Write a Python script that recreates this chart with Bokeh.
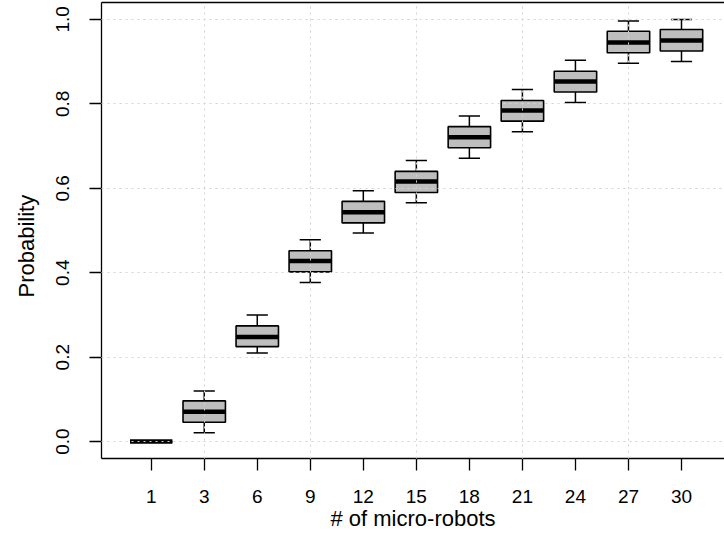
import numpy as np
from bokeh.plotting import figure
from bokeh.models import (FixedTicker, LinearAxis, Range1d, Title,
                          PrintfTickFormatter)
from bokeh.embed import file_html
from bokeh.resources import INLINE

# ---- data ----
counts = ["1", "3", "6", "9", "12", "15", "18", "21", "24", "27", "30"]
lo  = [0.0, 0.021, 0.210, 0.377, 0.494, 0.566, 0.671, 0.734, 0.803, 0.896, 0.900]
q1  = [0.0, 0.046, 0.225, 0.402, 0.518, 0.590, 0.696, 0.759, 0.828, 0.921, 0.925]
med = [0.0, 0.071, 0.248, 0.428, 0.543, 0.616, 0.721, 0.784, 0.853, 0.945, 0.950]
q3  = [0.0, 0.0965, 0.274, 0.452, 0.569, 0.640, 0.746, 0.808, 0.877, 0.972, 0.976]
hi  = [0.0, 0.120, 0.300, 0.478, 0.594, 0.666, 0.771, 0.834, 0.903, 0.996, 1.000]
y_ticks = [0.0, 0.2, 0.4, 0.6, 0.8, 1.0]
x_grid_at = [2, 4, 6, 8, 10]

pos = np.arange(1, len(counts) + 1)
BOXW = 0.8
CAPW = 0.4

FONT = "Liberation Sans"

p = figure(width=724, height=543, output_backend="svg", toolbar_location=None,
           x_range=Range1d(0.0628, 11.811), y_range=Range1d(-0.04, 1.04),
           min_border_left=101, min_border_right=0, min_border_top=2,
           min_border_bottom=85)
p.outline_line_color = None
p.background_fill_color = "white"
p.border_fill_color = "white"

# boxes
p.vbar(x=pos, top=q3, bottom=q1, width=BOXW, fill_color="#BEBEBE",
       line_color="black", line_width=1.6)
# medians
p.segment(x0=pos - BOXW / 2, x1=pos + BOXW / 2, y0=med, y1=med,
          line_color="black", line_width=4.5)
# whiskers
p.segment(x0=pos, x1=pos, y0=q3, y1=hi, line_color="black", line_width=1.5)
p.segment(x0=pos, x1=pos, y0=q1, y1=lo, line_color="black", line_width=1.5)
# caps
p.segment(x0=pos - CAPW / 2, x1=pos + CAPW / 2, y0=hi, y1=hi,
          line_color="black", line_width=1.5)
p.segment(x0=pos - CAPW / 2, x1=pos + CAPW / 2, y0=lo, y1=lo,
          line_color="black", line_width=1.5)

# grid (drawn over the boxes, as in R's grid())
p.xgrid.ticker = FixedTicker(ticks=x_grid_at)
p.ygrid.ticker = FixedTicker(ticks=y_ticks)
for g in (p.xgrid, p.ygrid):
    g.grid_line_color = "#D3D3D3"
    g.grid_line_dash = "2 4"
    g.grid_line_width = 1
    g.level = "overlay"

# axes
xa = p.below[0]
xa.ticker = FixedTicker(ticks=list(pos))
xa.major_label_overrides = {int(i): c for i, c in zip(pos, counts)}
ya = p.left[0]
ya.ticker = FixedTicker(ticks=y_ticks)
ya.formatter = PrintfTickFormatter(format="%.1f")
ya.major_label_orientation = "vertical"

for ax in (xa, ya):
    ax.axis_line_color = "black"
    ax.axis_line_width = 1.3
    ax.major_tick_line_color = "black"
    ax.major_tick_line_width = 1.3
    ax.major_tick_out = 12
    ax.major_tick_in = 0
    ax.minor_tick_line_color = None
    ax.major_label_text_font = FONT
    ax.major_label_text_font_size = "19px"
    ax.major_label_text_color = "black"
xa.major_label_standoff = 19
ya.major_label_standoff = 20

xa.axis_label = "# of micro-robots"
xa.axis_label_standoff = 0
xa.axis_label_text_font = FONT
xa.axis_label_text_font_size = "22px"
xa.axis_label_text_font_style = "normal"
xa.axis_label_text_color = "black"

top = LinearAxis(ticker=FixedTicker(ticks=[]), axis_line_color="black",
                 axis_line_width=1.3, major_tick_out=0, major_tick_in=0,
                 minor_tick_line_color=None, major_label_standoff=0,
                 major_label_text_font_size="0px")
p.add_layout(top, "above")

p.add_layout(Title(text="Probability", align="left", offset=161,
                   vertical_align="top", standoff=26, text_font=FONT,
                   text_font_size="22px", text_font_style="normal",
                   text_color="black"), "left")

open("out.html", "w").write(file_html(p, INLINE))
